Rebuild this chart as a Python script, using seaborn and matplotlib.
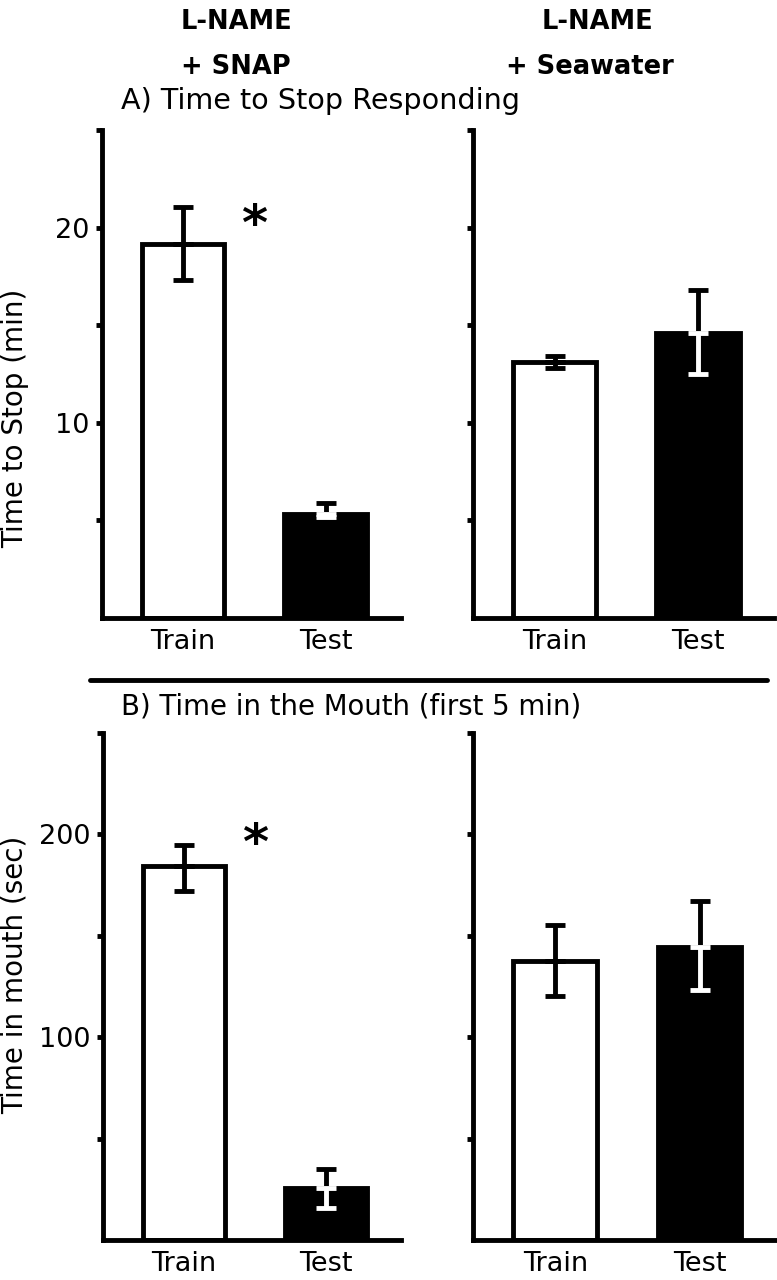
import matplotlib
matplotlib.use("Agg")
import matplotlib.pyplot as plt
from matplotlib.lines import Line2D
import seaborn as sns

# values
conditions = ["Train", "Test"]

stop_snap_mean = [19.15, 5.35]
stop_snap_lo = [17.3, 5.15]
stop_snap_hi = [21.05, 5.9]

stop_sea_mean = [13.1, 14.6]
stop_sea_lo = [12.8, 12.5]
stop_sea_hi = [13.4, 16.8]

mouth_snap_mean = [184.4, 25.6]
mouth_snap_lo = [172.0, 16.0]
mouth_snap_hi = [195.0, 35.0]

mouth_sea_mean = [137.6, 144.7]
mouth_sea_lo = [120.3, 123.5]
mouth_sea_hi = [155.3, 167.0]

stop_ticks = [5, 10, 15, 20, 25]
stop_ticklabels = ["", "10", "", "20", ""]
mouth_ticks = [50, 100, 150, 200, 250]
mouth_ticklabels = ["", "100", "", "200", ""]

sns.set_theme(style="ticks")
plt.rcParams["font.family"] = ["DejaVu Sans"]
plt.rcParams["text.color"] = "black"
plt.rcParams["axes.labelcolor"] = "black"

W, H = 777, 1280
fig = plt.figure(figsize=(W / 100, H / 100), dpi=100)


def px_rect(x0, y0, x1, y1):
    return [x0 / W, 1 - y1 / H, (x1 - x0) / W, (y1 - y0) / H]


def draw_panel(ax, mean, lo, hi, ymax, ticks, ticklabels, star=None):
    sns.barplot(x=conditions, y=mean, hue=conditions, palette=["white", "black"],
                legend=False, errorbar=None, width=0.58, edgecolor="black",
                linewidth=3.5, ax=ax)
    for i in range(len(conditions)):
        low_color = "black" if i == 0 else "white"
        ax.errorbar(i, mean[i], yerr=[[0], [hi[i] - mean[i]]], color="black",
                    elinewidth=3.5, capsize=7, capthick=3.5, zorder=5)
        ax.errorbar(i, mean[i], yerr=[[mean[i] - lo[i]], [0]], color=low_color,
                    elinewidth=3.5, capsize=7, capthick=3.5, zorder=5)
    ax.set_xlim(-0.57, 1.53)
    ax.set_ylim(0, ymax)
    ax.set_yticks(ticks)
    ax.set_yticklabels(ticklabels)
    ax.set_xlabel("")
    ax.set_ylabel("")
    sns.despine(ax=ax)
    for side in ["left", "bottom"]:
        ax.spines[side].set_linewidth(3.5)
        ax.spines[side].set_color("black")
    ax.tick_params(axis="y", length=4, width=3.5, direction="out", pad=5,
                   labelsize=19.5, colors="black")
    ax.tick_params(axis="x", length=0, pad=8, labelsize=19.5, colors="black")
    if star is not None:
        ax.text(star[0], star[1], "*", fontsize=36, fontweight="bold",
                ha="center", va="center", color="black")


ax1 = fig.add_axes(px_rect(102, 130, 401, 618))
draw_panel(ax1, stop_snap_mean, stop_snap_lo, stop_snap_hi, 25,
           stop_ticks, stop_ticklabels, star=(0.5, 20.1))

ax2 = fig.add_axes(px_rect(473, 130, 774, 618))
draw_panel(ax2, stop_sea_mean, stop_sea_lo, stop_sea_hi, 25,
           stop_ticks, [""] * 5)

ax3 = fig.add_axes(px_rect(103, 733, 401, 1240))
draw_panel(ax3, mouth_snap_mean, mouth_snap_lo, mouth_snap_hi, 250,
           mouth_ticks, mouth_ticklabels, star=(0.5, 195))

ax4 = fig.add_axes(px_rect(473, 733, 776, 1240))
draw_panel(ax4, mouth_sea_mean, mouth_sea_lo, mouth_sea_hi, 250,
           mouth_ticks, [""] * 5)


def ftext(x, y, s, **kw):
    fig.text(x / W, 1 - y / H, s, color="black", **kw)


# group headers
ftext(236, 22, "L-NAME", fontsize=18.5, fontweight="bold", ha="center", va="center")
ftext(236, 67, "+ SNAP", fontsize=18.5, fontweight="bold", ha="center", va="center")
ftext(597, 22, "L-NAME", fontsize=18.5, fontweight="bold", ha="center", va="center")
ftext(590, 67, "+ Seawater", fontsize=18.5, fontweight="bold", ha="center", va="center")

# panel titles
ftext(121, 101, "A) Time to Stop Responding", fontsize=20.6, ha="left", va="center")
ftext(121, 706, "B) Time in the Mouth (first 5 min)", fontsize=19.8, ha="left", va="center")

# y axis labels
ftext(15, 418, "Time to Stop (min)", fontsize=20, rotation=90, ha="center", va="center")
ftext(15, 975, "Time in mouth (sec)", fontsize=20, rotation=90, ha="center", va="center")

# separator between A and B
fig.add_artist(Line2D([90 / W, 767 / W], [1 - 680 / H, 1 - 680 / H],
                      lw=3.5, color="black", solid_capstyle="round"))

fig.savefig("out.png", dpi=100, facecolor="white")
